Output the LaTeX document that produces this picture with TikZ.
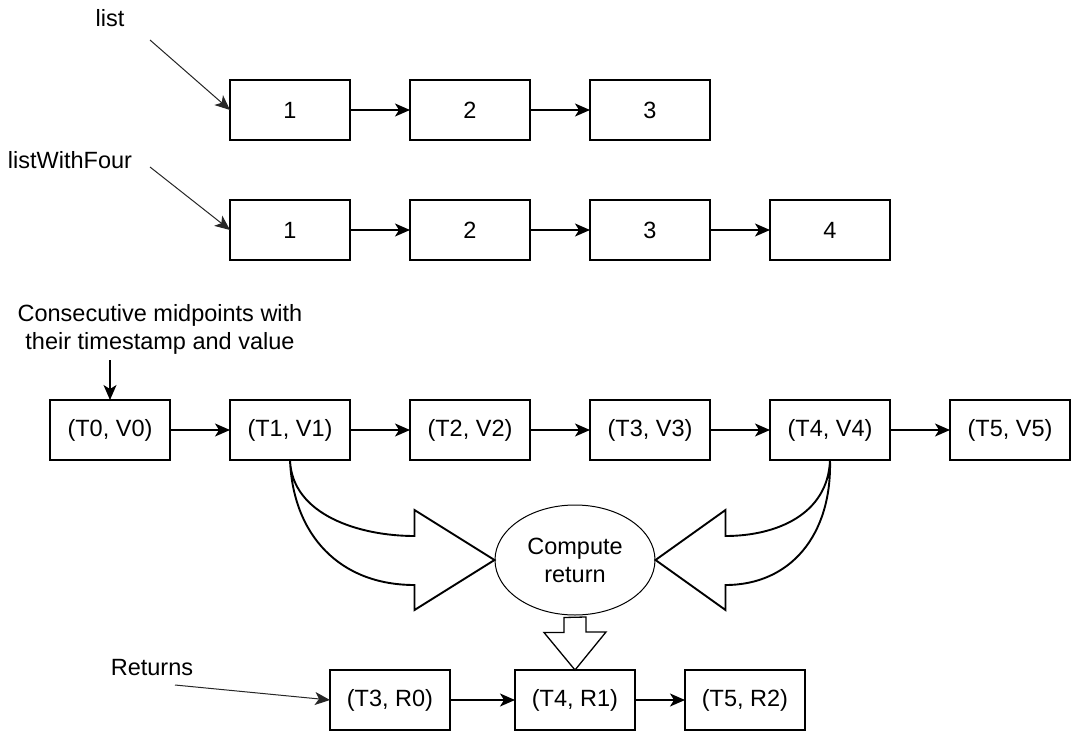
\documentclass[tikz,border=0pt]{standalone}
\usepackage{fontspec}
\setmainfont{Liberation Sans}
\usetikzlibrary{positioning,arrows.meta,shapes.geometric}

\tikzset{
    cell/.style={draw, line width=1.3pt, minimum width=120pt, minimum height=60pt, inner sep=0pt, outer sep=0pt},
    link/.style={line width=1.3pt, -{Stealth[length=15pt,width=13pt,inset=4pt]}},
    ptr/.style={line width=1pt, black!85, -{Stealth[length=15pt,width=13pt,inset=4pt]}},
    lbl/.style={inner sep=0pt, align=center},
    fatarrow/.style={draw, line width=1.9pt, fill=white, line join=miter},
}

\begin{document}
\begin{tikzpicture}[x=1pt, y=-1pt, node distance=60pt,
    font=\fontsize{23.5pt}{28pt}\selectfont]
    \useasboundingbox (0,0) rectangle (1077,736);

    % list
    \node[lbl] (list) at (110,18) {list};
    \coordinate (listptr) at (150,40);
    \node[cell] (l1) at (290,110) {1};
    \node[cell, right=of l1] (l2) {2};
    \node[cell, right=of l2] (l3) {3};

    % listWithFour
    \node[lbl] (four) at (70,160) {listWithFour};
    \coordinate (fourptr) at (150,167);
    \node[cell] (w1) at (290,230) {1};
    \node[cell, right=of w1] (w2) {2};
    \node[cell, right=of w2] (w3) {3};
    \node[cell, right=of w3] (w4) {4};

    % midpoints
    \node[lbl] (mids) at (160,329) {Consecutive midpoints with\\their timestamp and value};
    \coordinate (midsptr) at (110,360);
    \node[cell] (m0) at (110,430) {(T0, V0)};
    \node[cell, right=of m0] (m1) {(T1, V1)};
    \node[cell, right=of m1] (m2) {(T2, V2)};
    \node[cell, right=of m2] (m3) {(T3, V3)};
    \node[cell, right=of m3] (m4) {(T4, V4)};
    \node[cell, right=of m4] (m5) {(T5, V5)};

    \node[draw, ellipse, line width=1pt, minimum width=160pt, minimum height=110pt,
        align=center, inner sep=0pt] (calc) at (575,560) {Compute\\return};

    % returns
    \node[cell] (r1) at (575,700) {(T4, R1)};
    \node[cell, left=65pt of r1] (r0) {(T3, R0)};
    \node[cell, right=50pt of r1] (r2) {(T5, R2)};
    \node[lbl] (rets) at (152,668) {Returns};
    \coordinate (retsptr) at (175,685);

    \draw[ptr] (listptr) -- (l1.west);
    \draw[link] (l1) -- (l2);
    \draw[link] (l2) -- (l3);

    \draw[ptr] (fourptr) -- (w1.west);
    \draw[link] (w1) -- (w2);
    \draw[link] (w2) -- (w3);
    \draw[link] (w3) -- (w4);

    \draw[link] (midsptr) -- (m0.north);
    \draw[link] (m0) -- (m1);
    \draw[link] (m1) -- (m2);
    \draw[link] (m2) -- (m3);
    \draw[link] (m3) -- (m4);
    \draw[link] (m4) -- (m5);

    % big curved arrows into the ellipse
    \draw[fatarrow] (m1.south) .. controls +(2,55) and +(-55,0) .. ([shift={(-80,-24)}]calc.west)
        -- ++(0,-26) -- (calc.west) -- ++(-80,50) -- ++(0,-25)
        .. controls +(-75,0) and +(3,75) .. (m1.south);
    \draw[fatarrow] (m4.south) .. controls +(-2,55) and +(50,0) .. ([shift={(70,-24)}]calc.east)
        -- ++(0,-26) -- (calc.east) -- ++(70,50) -- ++(0,-25)
        .. controls +(65,0) and +(2,75) .. (m4.south);

    % block arrow down
    \draw[fatarrow, line width=1.3pt] ([shift={(-11,2)}]calc.south) -- ++(0,15) -- ++(-20,0)
        -- (r1.north) -- ++(31,-38) -- ++(-20,0) -- ++(0,-15) -- cycle;

    \draw[ptr] (retsptr) -- (r0.west);
    \draw[link] (r0) -- (r1);
    \draw[link] (r1) -- (r2);
\end{tikzpicture}
\end{document}
